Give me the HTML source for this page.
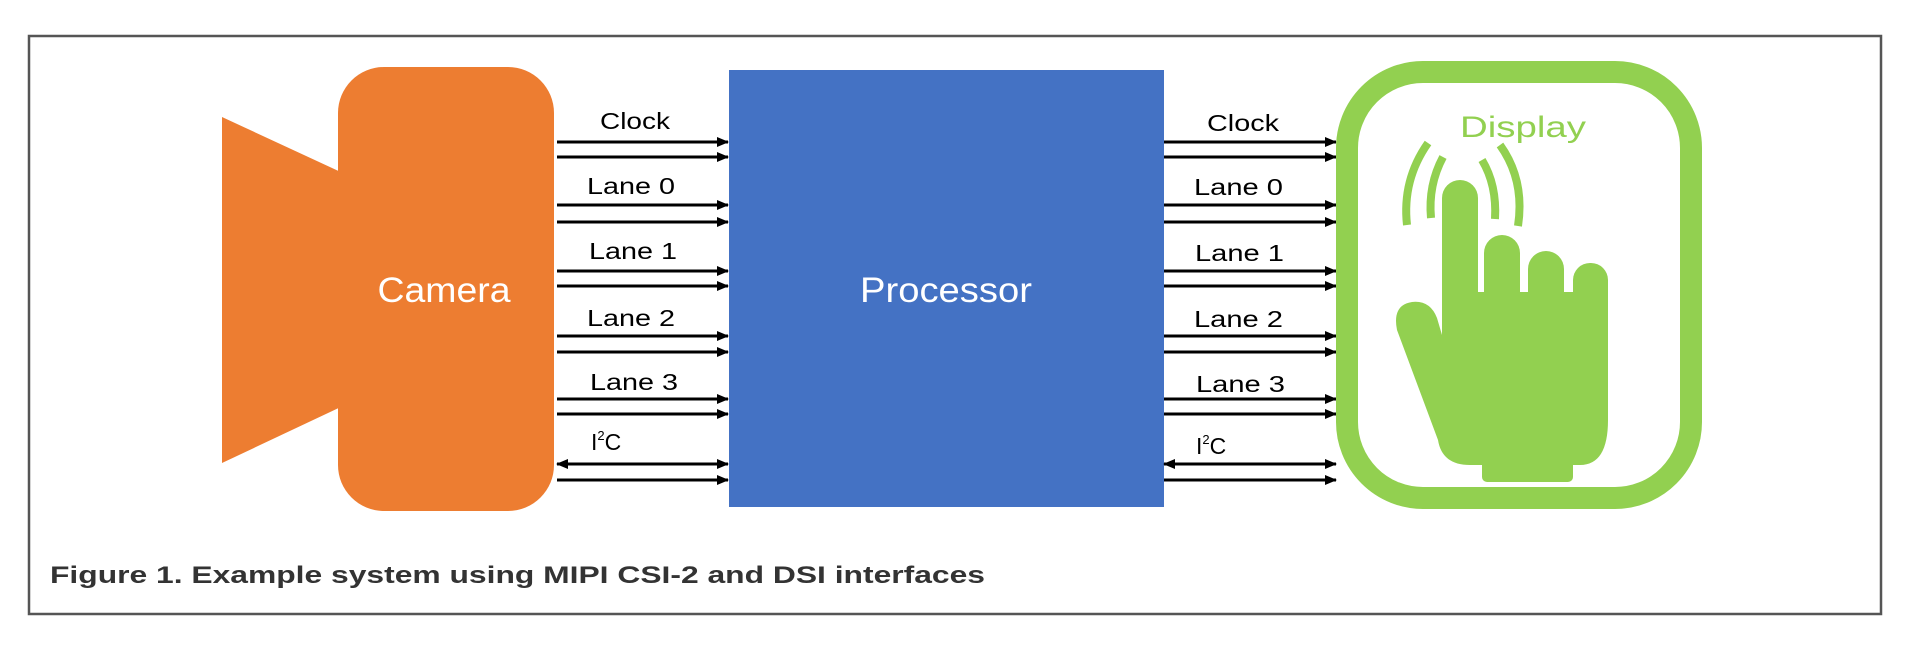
<!DOCTYPE html>
<html><head><meta charset="utf-8"><style>
html,body{margin:0;padding:0;background:#fff;}
svg{display:block;}
text{font-family:"Liberation Sans",sans-serif;}
</style></head><body>
<svg width="1909" height="647" viewBox="0 0 1909 647" xmlns="http://www.w3.org/2000/svg">
<defs>
<marker id="ah" markerWidth="12" markerHeight="10" refX="11" refY="5" orient="auto" markerUnits="userSpaceOnUse">
<path d="M0,0 L12,5 L0,10 z" fill="#000"/></marker>
<marker id="as" markerWidth="12" markerHeight="10" refX="1" refY="5" orient="auto" markerUnits="userSpaceOnUse">
<path d="M12,0 L0,5 L12,10 z" fill="#000"/></marker>
</defs>
<rect x="29" y="36" width="1852" height="578" fill="none" stroke="#555" stroke-width="2.5"/>
<!-- camera -->
<polygon points="222,117 345,174 345,405 222,463" fill="#ED7D31"/>
<rect x="338" y="67" width="216" height="444" rx="46" fill="#ED7D31"/>
<text x="444" y="302" font-size="35" fill="#fff" text-anchor="middle" textLength="133" lengthAdjust="spacingAndGlyphs">Camera</text>
<!-- processor -->
<rect x="729" y="70" width="435" height="437" fill="#4472C4"/>
<text x="946" y="302" font-size="35" fill="#fff" text-anchor="middle" textLength="172" lengthAdjust="spacingAndGlyphs">Processor</text>
<g stroke="#000" stroke-width="3">
<line x1="557" y1="142" x2="728" y2="142" marker-end="url(#ah)"/>
<line x1="557" y1="157" x2="728" y2="157" marker-end="url(#ah)"/>
<line x1="557" y1="205" x2="728" y2="205" marker-end="url(#ah)"/>
<line x1="557" y1="222" x2="728" y2="222" marker-end="url(#ah)"/>
<line x1="557" y1="271" x2="728" y2="271" marker-end="url(#ah)"/>
<line x1="557" y1="286" x2="728" y2="286" marker-end="url(#ah)"/>
<line x1="557" y1="336" x2="728" y2="336" marker-end="url(#ah)"/>
<line x1="557" y1="352" x2="728" y2="352" marker-end="url(#ah)"/>
<line x1="557" y1="399" x2="728" y2="399" marker-end="url(#ah)"/>
<line x1="557" y1="414" x2="728" y2="414" marker-end="url(#ah)"/>
<line x1="557" y1="464" x2="728" y2="464" marker-end="url(#ah)" marker-start="url(#as)"/>
<line x1="557" y1="480" x2="728" y2="480" marker-end="url(#ah)"/>
<line x1="1164" y1="142" x2="1336" y2="142" marker-end="url(#ah)"/>
<line x1="1164" y1="157" x2="1336" y2="157" marker-end="url(#ah)"/>
<line x1="1164" y1="205" x2="1336" y2="205" marker-end="url(#ah)"/>
<line x1="1164" y1="222" x2="1336" y2="222" marker-end="url(#ah)"/>
<line x1="1164" y1="271" x2="1336" y2="271" marker-end="url(#ah)"/>
<line x1="1164" y1="286" x2="1336" y2="286" marker-end="url(#ah)"/>
<line x1="1164" y1="336" x2="1336" y2="336" marker-end="url(#ah)"/>
<line x1="1164" y1="352" x2="1336" y2="352" marker-end="url(#ah)"/>
<line x1="1164" y1="399" x2="1336" y2="399" marker-end="url(#ah)"/>
<line x1="1164" y1="414" x2="1336" y2="414" marker-end="url(#ah)"/>
<line x1="1164" y1="464" x2="1336" y2="464" marker-end="url(#ah)" marker-start="url(#as)"/>
<line x1="1164" y1="480" x2="1336" y2="480" marker-end="url(#ah)"/>
</g>
<g font-size="23" fill="#000">
<text x="600" y="129" textLength="70" lengthAdjust="spacingAndGlyphs">Clock</text>
<text x="587" y="194" textLength="88" lengthAdjust="spacingAndGlyphs">Lane 0</text>
<text x="589" y="259" textLength="88" lengthAdjust="spacingAndGlyphs">Lane 1</text>
<text x="587" y="326" textLength="88" lengthAdjust="spacingAndGlyphs">Lane 2</text>
<text x="590" y="390" textLength="88" lengthAdjust="spacingAndGlyphs">Lane 3</text>
<text x="591" y="450">I<tspan font-size="13" dy="-10">2</tspan><tspan dy="10">C</tspan></text>
<text x="1207" y="131" textLength="72" lengthAdjust="spacingAndGlyphs">Clock</text>
<text x="1194" y="195" textLength="89" lengthAdjust="spacingAndGlyphs">Lane 0</text>
<text x="1195" y="261" textLength="89" lengthAdjust="spacingAndGlyphs">Lane 1</text>
<text x="1194" y="327" textLength="89" lengthAdjust="spacingAndGlyphs">Lane 2</text>
<text x="1196" y="392" textLength="89" lengthAdjust="spacingAndGlyphs">Lane 3</text>
<text x="1196" y="454">I<tspan font-size="13" dy="-10">2</tspan><tspan dy="10">C</tspan></text>
</g>
<!-- display -->
<rect x="1347" y="72" width="344" height="426" rx="76" fill="none" stroke="#92D050" stroke-width="22"/>
<text x="1460" y="137" font-size="30" fill="#92D050" textLength="126" lengthAdjust="spacingAndGlyphs">Display</text>
<g fill="#92D050">
<rect x="1442" y="180" width="36" height="160" rx="18"/>
<rect x="1484" y="235" width="36" height="100" rx="18"/>
<rect x="1528" y="251" width="36" height="90" rx="18"/>
<rect x="1573" y="263" width="35" height="80" rx="17"/>
<path d="M1442,292 L1608,292 L1608,420 Q1608,465 1580,465 L1470,465 Q1442,465 1438,440 L1397,330 Q1392,305 1412,302 Q1430,300 1437,318 L1442,335 z"/>
<rect x="1482" y="440" width="91" height="42" rx="5"/>
</g>
<g fill="none" stroke="#92D050" stroke-width="8">
<path d="M1443,157 Q1428,185 1431,218"/>
<path d="M1428,143 Q1402,180 1407,225"/>
<path d="M1482,160 Q1497,185 1495,219"/>
<path d="M1500,145 Q1525,180 1518,226"/>
</g>
<text x="50" y="583" font-size="24" font-weight="bold" fill="#333" textLength="935" lengthAdjust="spacingAndGlyphs">Figure 1.  Example system using MIPI CSI-2 and DSI interfaces</text>
</svg>
</body></html>
